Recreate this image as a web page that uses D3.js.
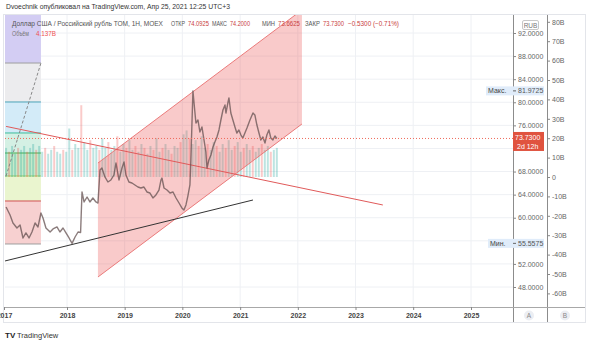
<!DOCTYPE html>
<html><head><meta charset="utf-8">
<script src="https://cdn.jsdelivr.net/npm/d3@7"></script>
<style>
body{margin:0;background:#fff}
svg{display:block}
text{font-family:"Liberation Sans",Arial,sans-serif}
</style>
</head><body>
<svg id="c" width="590" height="344"></svg>
<script>
// ---------- DATA ----------
const priceDates = ["2017-01-13","2017-02-05","2017-02-22","2017-03-17","2017-04-04","2017-04-21","2017-05-08","2017-05-26","2017-06-12","2017-06-30","2017-07-17","2017-08-03","2017-08-15","2017-09-01","2017-09-25","2017-10-12","2017-11-04","2017-11-21","2017-12-09","2017-12-26",
"2018-01-14","2018-02-02","2018-02-21","2018-03-12","2018-03-28","2018-04-06","2018-04-19","2018-05-08","2018-05-26","2018-06-14","2018-07-03","2018-07-16","2018-07-29","2018-08-10","2018-08-29","2018-09-17","2018-10-06","2018-10-25","2018-11-07","2018-11-26","2018-12-15","2018-12-28",
"2019-01-09","2019-01-28","2019-02-16","2019-03-07","2019-03-26","2019-04-14","2019-05-03","2019-05-22","2019-06-10","2019-06-29","2019-07-18","2019-08-06","2019-08-19","2019-08-25","2019-09-07","2019-09-26","2019-10-15","2019-11-03","2019-11-22","2019-12-11","2019-12-29",
"2020-01-11","2020-01-24","2020-02-05","2020-02-18","2020-02-24","2020-03-08","2020-03-21","2020-03-27","2020-04-09","2020-04-21","2020-05-04","2020-05-17","2020-05-29","2020-06-05","2020-06-17","2020-06-30","2020-07-13","2020-07-25","2020-08-07","2020-08-20","2020-09-01","2020-09-14","2020-09-27","2020-10-03","2020-10-15","2020-10-22","2020-11-03","2020-11-16","2020-11-29","2020-12-11","2020-12-24",
"2021-01-06","2021-01-18","2021-02-13","2021-03-04","2021-03-23","2021-04-04","2021-04-17","2021-04-30","2021-05-12","2021-05-25","2021-06-07","2021-06-19","2021-07-02","2021-07-14","2021-07-27","2021-08-09","2021-08-21"];
const priceValues = [61.86,60.47,59.09,58.22,58.74,56.49,57.36,56.49,57.53,59.09,58.40,60.82,59.95,58.22,57.53,58.05,58.40,57.53,58.22,57.36,
56.49,55.56,56.66,57.53,57.45,64.46,62.73,63.59,62.73,63.42,62.73,62.55,68.27,68.62,67.06,66.19,66.54,67.40,69.48,66.54,68.62,69.65,
67.40,66.19,66.02,65.67,65.32,65.15,65.32,64.46,64.28,63.42,63.94,64.80,66.54,66.88,65.15,64.80,64.28,64.46,63.42,62.55,61.69,
61.34,62.21,63.76,65.67,70.00,81.97,78.14,76.41,76.93,74.85,75.72,73.47,71.39,68.62,70.00,70.87,72.25,73.12,73.98,75.20,76.93,78.66,79.53,78.14,79.87,80.74,78.14,76.93,75.72,74.68,75.20,
74.33,73.81,75.54,76.93,78.14,77.80,76.06,74.68,73.47,73.98,72.95,74.33,75.20,73.81,73.47,74.16,73.73];

// volume in billions (B), evenly spread over the price dates range
const volumeValues = [15,13,16,12,15,14,16,13,15,17,14,16,
13,15,12,14,16,13,12,14,13,
25,14,17,15,
37,
18,14,19,15,16,14,
20,15,18,14,16,21,13,17,15,19,
14,16,13,17,15,12,16,14,20,13,15,17,14,12,16,15,
18,22,24,20,17,19,16,21,
15,17,14,18,16,13,17,15,19,14,16,18,13,15,17,
14,16,13,15,17,14,16,13,14,15];

const yearTicks = [2017,2018,2019,2020,2021,2022,2023,2024,2025];
const priceGridTicks = [92,88,84,80,76,72,68,64,60,56,52,48];
const priceLabelTicks = [92,88,84,80,76,68,64,60,52,48];
const volumeTicks = [80,70,60,50,40,30,20,10,0,-10,-20,-30,-40,-50,-60];

// drawings
const channelDates = ["2018-07-16","2022-01-27"];
const channelLowerValues = [49.73, 76.24];
const channelWidthValue = 19.75;
const redTrendDates = ["2017-01-13","2023-06-23"];
const redTrendValues = [75.82, 62.21];
const blackTrendDates = ["2017-01-07","2021-03-23"];
const blackTrendValues = [52.51, 63.07];
const fibDates = ["2016-12-20","2017-08-03"];
const fibLevels = [97, 86.80, 80.05, 74.68, 71.21, 67.23, 62.90, 55.45];
const fibDiagDates = ["2017-01-13","2017-08-03"];
const fibDiagValues = [67.23, 86.80];

const lastPrice = 73.73, maxPrice = 81.9725, minPrice = 55.5575;

// ---------- STYLE ----------
const fibFills = ["#d3cdf3","#ececee","#d3ebf8","#d4f0e4","#caeccb","#eaf5cf","#f7d0d0"];
const fibLineColors = ["#9e9e9e","#4aa3b8","#3dbb9c","#4caf50","#9ccc65","#d05050","#9e9e9e"];
const L=5, R=513, T=15, B=307;

const parse = d3.utcParse("%Y-%m-%d");
const svg = d3.select("#c");

const x = d3.scaleUtc()
  .domain([new Date(Date.UTC(2017,0,1)), new Date(Date.UTC(2018,0,1)), new Date(Date.UTC(2025,0,1))])
  .range([4, 67, 471]);
const y = d3.scaleLinear().domain([48, 92]).range([287, 33]);
const vy = d3.scaleLinear().domain([-60, 80]).range([293.4, 21.8]);

// outer border
svg.append("rect").attr("x",3.5).attr("y",14.5).attr("width",582).attr("height",308)
  .attr("fill","none").attr("stroke","#e3e5ea");

svg.append("defs").append("clipPath").attr("id","clip")
  .append("rect").attr("x",L).attr("y",T).attr("width",R-L).attr("height",B-T);
const plot = svg.append("g").attr("clip-path","url(#clip)");

// grid
plot.selectAll(".vg").data(yearTicks).enter().append("line")
  .attr("x1",d=>x(new Date(Date.UTC(d,0,1)))).attr("x2",d=>x(new Date(Date.UTC(d,0,1))))
  .attr("y1",T).attr("y2",B).attr("stroke","#eef0f4");
plot.selectAll(".hg").data(priceGridTicks).enter().append("line")
  .attr("x1",L).attr("x2",R).attr("y1",d=>y(d)).attr("y2",d=>y(d)).attr("stroke","#eef0f4");

// fib boxes
const fx0 = x(parse(fibDates[0])), fx1 = x(parse(fibDates[1]));
for (let i=0;i<fibLevels.length-1;i++){
  plot.append("rect").attr("x",fx0).attr("width",fx1-fx0)
    .attr("y",y(fibLevels[i])).attr("height",y(fibLevels[i+1])-y(fibLevels[i]))
    .attr("fill",fibFills[i]);
}
for (let i=1;i<fibLevels.length;i++){
  plot.append("line").attr("x1",fx0).attr("x2",fx1)
    .attr("y1",y(fibLevels[i])).attr("y2",y(fibLevels[i]))
    .attr("stroke",fibLineColors[i-1]).attr("stroke-width",1);
}

// volume bars
const vx = d3.scaleLinear().domain([0, volumeValues.length-1])
  .range([x(parse(priceDates[0])), x(parse(priceDates[priceDates.length-1]))]);
plot.selectAll(".vb").data(volumeValues).enter().append("rect")
  .attr("x",(d,i)=>vx(i)-1).attr("width",2)
  .attr("y",d=>vy(d)).attr("height",d=>vy(0)-vy(d))
  .attr("fill",(d,i)=> (i%3===1) ? "rgba(239,83,80,0.3)" : "rgba(38,166,154,0.3)");

// channel
const cx0 = x(parse(channelDates[0])), cx1 = x(parse(channelDates[1]));
const chPts = [
  [cx0, y(channelLowerValues[0])],
  [cx1, y(channelLowerValues[1])],
  [cx1, y(channelLowerValues[1]+channelWidthValue)],
  [cx0, y(channelLowerValues[0]+channelWidthValue)]
];
plot.append("path").attr("d", d3.line()(chPts)+"Z")
  .attr("fill","rgba(236,80,80,0.3)").attr("stroke","none");
plot.append("path").attr("d", d3.line()([chPts[0],chPts[1]])).attr("stroke","#ea7a7a").attr("fill","none");
plot.append("path").attr("d", d3.line()([chPts[3],chPts[2]])).attr("stroke","#ea7a7a").attr("fill","none");

// trend lines
const tl = d3.line().x(d=>x(d[0])).y(d=>y(d[1]));
plot.append("path").attr("d", tl(redTrendDates.map((d,i)=>[parse(d),redTrendValues[i]])))
  .attr("stroke","#e05a5a").attr("stroke-width",1).attr("fill","none");
plot.append("path").attr("d", tl(blackTrendDates.map((d,i)=>[parse(d),blackTrendValues[i]])))
  .attr("stroke","#333").attr("stroke-width",1).attr("fill","none");
plot.append("path").attr("d", tl(fibDiagDates.map((d,i)=>[parse(d),fibDiagValues[i]])))
  .attr("stroke","#888").attr("stroke-width",1).attr("stroke-dasharray","3,2").attr("fill","none");

// price line
const priceData = priceDates.map((d,i)=>({date:parse(d), value:priceValues[i]}));
plot.append("path").datum(priceData)
  .attr("d", d3.line().x(d=>x(d.date)).y(d=>y(d.value)))
  .attr("fill","none").attr("stroke","rgba(100,80,80,0.75)").attr("stroke-width",1.4)
  .attr("stroke-linejoin","round");

// last price dotted line
svg.append("line").attr("x1",L).attr("x2",R).attr("y1",y(lastPrice)).attr("y2",y(lastPrice))
  .attr("stroke","#ef6a5a").attr("stroke-dasharray","1,2");

// separators
svg.append("line").attr("x1",513.5).attr("x2",513.5).attr("y1",15).attr("y2",322).attr("stroke","#8c8c8c");
svg.append("line").attr("x1",547.5).attr("x2",547.5).attr("y1",15).attr("y2",322).attr("stroke","#8c8c8c");
svg.append("line").attr("x1",4).attr("x2",585).attr("y1",307.5).attr("y2",307.5).attr("stroke","#a8a8a8");

// axes
function styleAxis(g){
  g.select(".domain").remove();
  g.selectAll("text").attr("font-size",7).attr("fill","#666").attr("font-family","Liberation Sans, Arial, sans-serif");
  g.selectAll("line").attr("stroke","#888");
}
svg.append("g").attr("transform","translate(513,0)")
  .call(d3.axisRight(y).tickValues(priceLabelTicks).tickSize(3).tickPadding(2).tickFormat(d3.format(".4f")))
  .call(styleAxis);
svg.append("g").attr("transform","translate(547,0)")
  .call(d3.axisRight(vy).tickValues(volumeTicks).tickSize(3).tickPadding(2).tickFormat(d=> d===0 ? "0" : d+"B"))
  .call(styleAxis);
svg.append("g").attr("transform","translate(0,307)")
  .call(d3.axisBottom(x).tickValues(yearTicks.map(d=>new Date(Date.UTC(d,0,1)))).tickSize(3).tickPadding(3).tickFormat(d3.utcFormat("%Y")))
  .call(styleAxis)
  .call(g=>g.selectAll("text").attr("fill","#444").attr("font-weight","bold"));

// RUB badge
svg.append("rect").attr("x",522.5).attr("y",20.5).attr("width",16).attr("height",9).attr("rx",1.5)
  .attr("fill","#fff").attr("stroke","#c8c8c8");
svg.append("text").attr("x",530.5).attr("y",27.5).attr("text-anchor","middle").attr("font-size",6.5).attr("fill","#777").text("RUB");

// A / B
[["A",529],["B",565]].forEach(([t,cx])=>{
  svg.append("circle").attr("cx",cx).attr("cy",315.5).attr("r",5).attr("fill","#eceef3");
  svg.append("text").attr("x",cx).attr("y",318).attr("text-anchor","middle").attr("font-size",6.5).attr("fill","#888").text(t);
});

// Max / Min labels
function extLabel(val, word, x0){
  const yy = y(val);
  svg.append("rect").attr("x",x0).attr("y",yy-4.5).attr("width",544-x0).attr("height",9).attr("fill","#e0ecfa");
  svg.append("text").attr("x",x0+2).attr("y",yy+2.5).attr("font-size",7).attr("fill","#444").text(word);
  svg.append("line").attr("x1",513).attr("x2",516).attr("y1",yy).attr("y2",yy).attr("stroke","#666");
  svg.append("text").attr("x",518).attr("y",yy+2.5).attr("font-size",7).attr("fill","#555").text(d3.format(".4f")(val));
}
extLabel(maxPrice,"Макс.",486);
extLabel(minPrice,"Мин.",488);

// last price label
const ly = y(lastPrice);
svg.append("rect").attr("x",513).attr("y",ly-6.5).attr("width",31).attr("height",19).attr("fill","#e0533f");
svg.append("text").attr("x",515).attr("y",ly+2).attr("font-size",7).attr("fill","#fff").text(d3.format(".4f")(lastPrice));
svg.append("text").attr("x",517).attr("y",ly+10.5).attr("font-size",7).attr("fill","#fff").text("2d 12h");

// headers
svg.append("text").attr("x",6).attr("y",8.5).attr("font-size",7).attr("fill","#333")
  .attr("textLength",224).attr("lengthAdjust","spacingAndGlyphs")
  .text("Dvoechnik опубликовал на TradingView.com, Апр 25, 2021 12:25 UTC+3");

function hdrText(s, c, x0, len, yy){
  svg.append("text").attr("x",x0).attr("y",yy).attr("font-size",6.8).attr("fill",c)
    .attr("textLength",len).attr("lengthAdjust","spacingAndGlyphs").text(s);
}
const red = "#c94040", grey = "#555";
hdrText("Доллар США / Российский рубль ТОМ, 1Н, MOEX", grey, 12, 151, 25.5);
hdrText("ОТКР", grey, 171, 14, 25.5);   hdrText("74.0925", red, 188, 21, 25.5);
hdrText("МАКС", grey, 212, 15, 25.5);   hdrText("74.2000", red, 230, 20, 25.5);
hdrText("МИН", grey, 262, 13, 25.5);    hdrText("73.6625", red, 278, 22, 25.5);
hdrText("ЗАКР", grey, 305, 15, 25.5);   hdrText("73.7300", red, 323, 21, 25.5);
hdrText("−0.5300 (−0.71%)", red, 348, 51, 25.5);
hdrText("Объём", "#777", 12, 17, 35.5);
hdrText("4.137B", "#ef5350", 36, 20, 35.5);

// logo
svg.append("text").attr("x",5).attr("y",337.5).attr("font-size",8).attr("font-weight","bold").attr("fill","#222").text("TV");
svg.append("text").attr("x",17).attr("y",337.5).attr("font-size",7.5).attr("fill","#333").text("TradingView");
</script>
</body></html>
